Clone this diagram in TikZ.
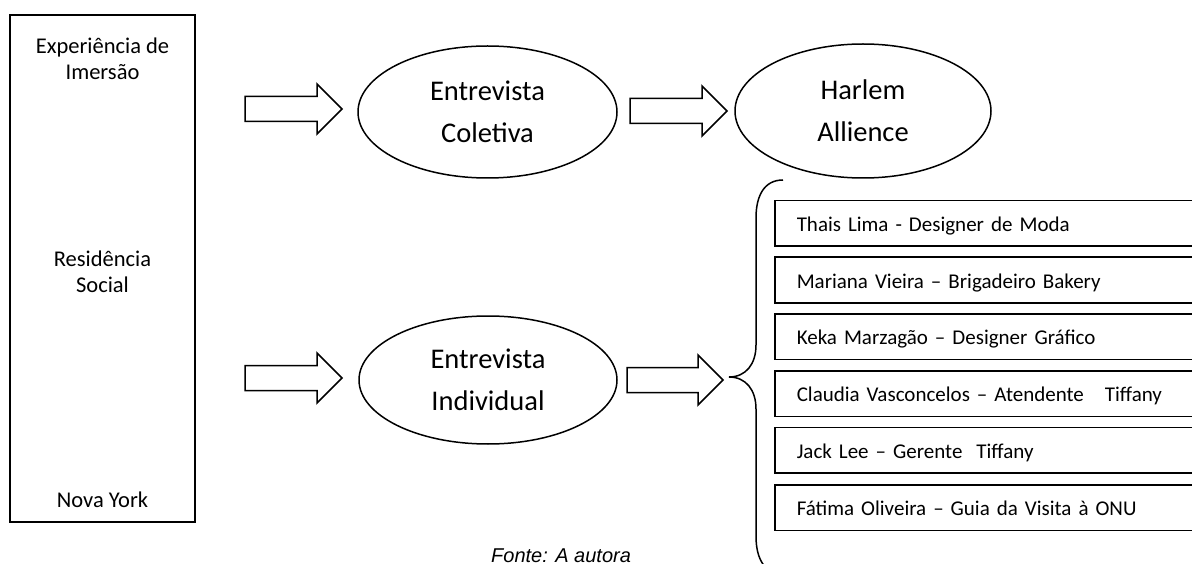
\documentclass[tikz,border=0pt]{standalone}
\usepackage{fontspec}
\setmainfont{Carlito}
\newfontfamily\arialfont{Liberation Sans}
\usetikzlibrary{shapes.geometric}
\newcommand{\blockarr}[3]{%
  \draw[blockarrow] (#1,#2-12.5) -- (#1+#3-25,#2-12.5) -- (#1+#3-25,#2-25)
    -- (#1+#3,#2) -- (#1+#3-25,#2+25) -- (#1+#3-25,#2+12.5) -- (#1,#2+12.5) -- cycle;}
\tikzset{
  ln/.style={line width=1.5pt},
  blockarrow/.style={ln, line join=miter},
  oval/.style={ellipse, draw, ln, inner sep=0pt, align=center,
    font=\fontsize{28.5}{42}\selectfont},
  listbox/.style={draw, ln, anchor=west, minimum height=45.5pt, text width=386pt,
    inner xsep=22pt, inner ysep=0pt, align=left, text height=16pt, text depth=0pt,
    font=\fontsize{21}{25}\selectfont},
  sidetext/.style={align=center, inner sep=0pt, font=\fontsize{22.5}{26}\selectfont},
}
\begin{document}
\begin{tikzpicture}[x=1pt,y=-1pt]
\useasboundingbox (0,0) rectangle (1192,564);
\clip (0,0) rectangle (1192,564);
% left box
\draw[ln] (10,15) rectangle (195,522);
\node[sidetext, anchor=base] (exp) at (102.5,54) {Experiência de};
\node[sidetext, anchor=base] (ime) at (102.5,80) {Imersão};
\node[sidetext, anchor=base] (res) at (102.5,266) {Residência};
\node[sidetext, anchor=base] (soc) at (102.5,292) {Social};
\node[sidetext, anchor=base] (ny) at (102.5,507) {Nova York};
% ellipses
\node[oval, minimum width=259pt, minimum height=132pt] (col) at (487.5,112) {Entrevista\\Coletiva};
\node[oval, minimum width=256pt, minimum height=134pt] (har) at (863,111) {Harlem\\Allience};
\node[oval, minimum width=258pt, minimum height=128pt] (ind) at (488,380) {Entrevista\\Individual};
% block arrows
\blockarr{245}{109}{97}
\blockarr{630}{111}{97}
\blockarr{245}{378}{97}
\blockarr{627}{380}{96}
% brace
\coordinate (btop) at (783,180);
\coordinate (btip) at (729,377);
\coordinate (bbot) at (783,574);
\draw[ln] (btop) .. controls (764,180) and (756,196) .. (756,218)
  -- (756,345) .. controls (756,364) and (746,377) .. (btip)
  .. controls (746,377) and (756,390) .. (756,409)
  -- (756,536) .. controls (756,558) and (764,574) .. (bbot);
% list
\node[listbox] (l1) at (774,223.5) {Thais Lima - Designer de Moda};
\node[listbox] (l2) at (774,280) {Mariana Vieira – Brigadeiro Bakery};
\node[listbox] (l3) at (774,336.5) {Keka Marzagão – Designer Gráfico};
\node[listbox] (l4) at (774,393.5) {Claudia Vasconcelos – Atendente\ \ \ Tiffany};
\node[listbox] (l5) at (774,450) {Jack Lee – Gerente\ \ Tiffany};
\node[listbox] (l6) at (774,507.5) {Fátima Oliveira – Guia da Visita à ONU};
% caption
\node[font=\arialfont\itshape\fontsize{20}{23}\selectfont, anchor=base west, inner sep=0pt] (fonte) at (491,562) {Fonte: A autora};
\end{tikzpicture}
\end{document}
